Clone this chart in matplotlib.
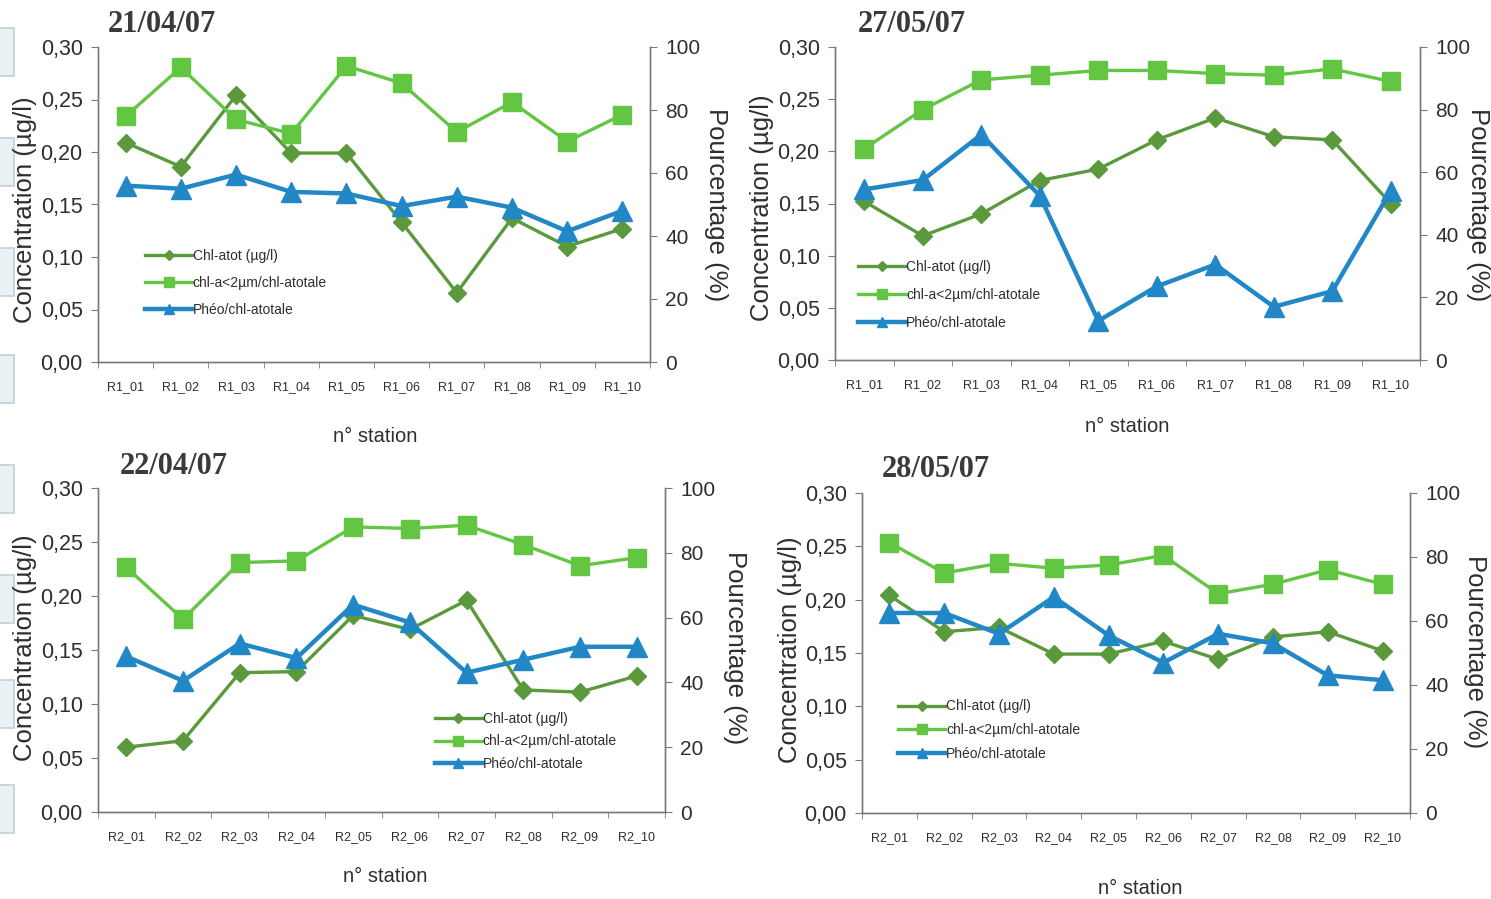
import numpy as np
import matplotlib
matplotlib.use("Agg")
import matplotlib.pyplot as plt
from matplotlib.patches import Rectangle
from matplotlib.ticker import FuncFormatter

plt.rcParams['font.family'] = ['Liberation Sans', 'DejaVu Sans']

# stations
st_r1 = ["R1_01", "R1_02", "R1_03", "R1_04", "R1_05",
         "R1_06", "R1_07", "R1_08", "R1_09", "R1_10"]
st_r2 = ["R2_01", "R2_02", "R2_03", "R2_04", "R2_05",
         "R2_06", "R2_07", "R2_08", "R2_09", "R2_10"]

# 21/04/07
chl_210407 = [0.209, 0.186, 0.254, 0.199, 0.199, 0.133, 0.066, 0.137, 0.110, 0.127]
pico_210407 = [78, 93.5, 77, 72.5, 94, 88.5, 73, 82.5, 70, 78.5]
pheo_210407 = [56, 55, 59.5, 54, 53.5, 49.5, 52.5, 49, 41.5, 48]

# 27/05/07
chl_270507 = [0.152, 0.119, 0.140, 0.172, 0.183, 0.211, 0.232, 0.214, 0.211, 0.150]
pico_270507 = [67.5, 80, 89.5, 91, 92.5, 92.5, 91.5, 91, 93, 89]
pheo_270507 = [54.5, 57.5, 72, 52.5, 12.5, 23.5, 30.5, 17, 22, 54]

# 22/04/07
chl_220407 = [0.060, 0.066, 0.129, 0.130, 0.182, 0.169, 0.196, 0.113, 0.111, 0.126]
pico_220407 = [75.5, 59.5, 77, 77.5, 88, 87.5, 88.5, 82.5, 76, 78.5]
pheo_220407 = [48, 40.5, 52, 47.5, 64, 58.5, 43, 47, 51, 51]

# 28/05/07
chl_280507 = [0.204, 0.170, 0.174, 0.149, 0.149, 0.161, 0.144, 0.165, 0.170, 0.152]
pico_280507 = [84.5, 75, 78, 76.5, 77.5, 80.5, 68.5, 71.5, 76, 71.5]
pheo_280507 = [62.5, 62.5, 56, 67.5, 55.5, 47, 56, 53, 43, 41.5]

dates = ["21/04/07", "27/05/07", "22/04/07", "28/05/07"]

c_chl = "#5a9a3c"
c_pico = "#62c642"
c_pheo = "#2187c6"
c_axis = "#7a7a7a"
c_text = "#2e2e2e"

W, H = 1491, 899
fig = plt.figure(figsize=(W / 100, H / 100), dpi=100)


def px(x, y):
    return x / W, 1 - y / H


def rect(l, t, r, b):
    return [l / W, 1 - b / H, (r - l) / W, (b - t) / H]


def panel(box, stations, chl, pico, pheo, leg_pos, leg_sp):
    ax = fig.add_axes(rect(*box))
    ax2 = ax.twinx()
    x = np.arange(len(stations))

    l1, = ax.plot(x, chl, color=c_chl, lw=2.4, marker="D", ms=9,
                  mec=c_chl, mfc=c_chl, label="Chl-atot (µg/l)", zorder=3)
    l2, = ax2.plot(x, pico, color=c_pico, lw=2.4, marker="s", ms=13,
                   mec=c_pico, mfc=c_pico, label="chl-a<2µm/chl-atotale")
    l3, = ax2.plot(x, pheo, color=c_pheo, lw=3.2, marker="^", ms=14,
                   mec=c_pheo, mfc=c_pheo, label="Phéo/chl-atotale")

    ax.set_xlim(-0.5, len(stations) - 0.5)
    ax.set_ylim(0, 0.30)
    ax2.set_ylim(0, 100)
    ax.set_yticks(np.arange(0, 0.301, 0.05))
    ax.yaxis.set_major_formatter(FuncFormatter(lambda v, p: f"{v:.2f}".replace(".", ",")))
    ax2.set_yticks(range(0, 101, 20))

    ax.set_xticks(x)
    ax.set_xticklabels(stations, fontsize=9, color=c_text)
    ax.set_xticks(np.arange(-0.5, len(stations)), minor=True)
    ax.tick_params(axis="x", which="major", length=0, pad=14)
    ax.tick_params(axis="x", which="minor", length=4, color=c_axis)
    ax.tick_params(axis="y", length=5, color=c_axis, labelsize=15.5, labelcolor=c_text, pad=6)
    ax2.tick_params(axis="y", length=5, color=c_axis, labelsize=15, labelcolor=c_text, pad=6)

    for a in (ax, ax2):
        a.spines["top"].set_visible(False)
        for s in ("left", "right", "bottom"):
            a.spines[s].set_color(c_axis)
            a.spines[s].set_linewidth(1.0)
        a.set_facecolor("none")

    ax2.legend(handles=[l1, l2, l3], loc="upper left", bbox_to_anchor=leg_pos,
               frameon=False, fontsize=10, handlelength=3.4, handletextpad=0.05,
               labelspacing=leg_sp, borderaxespad=0, borderpad=0,
               markerscale=0.55, labelcolor=c_text)
    return ax, ax2


panel((98, 47, 650, 362), st_r1, chl_210407, pico_210407, pheo_210407, (0.085, 0.36), 0.95)
panel((835, 47, 1420, 360), st_r1, chl_270507, pico_270507, pheo_270507, (0.04, 0.32), 1.0)
panel((98, 488, 665, 812), st_r2, chl_220407, pico_220407, pheo_220407, (0.594, 0.31), 0.64)
panel((862, 493, 1410, 813), st_r2, chl_280507, pico_280507, pheo_280507, (0.066, 0.355), 0.70)

# dates
title_xy = [(108, 25), (858, 25), (120, 467), (882, 470)]
for d, (tx, ty) in zip(dates, title_xy):
    fig.text(*px(tx, ty), d, family="Liberation Serif", fontweight="bold",
             fontsize=22, color="#3a3a3a", va="center", ha="left")

# axis titles
ylab_x = [(25, 210), (762, 208), (25, 648), (790, 650)]
for lx, ly in ylab_x:
    fig.text(*px(lx, ly), "Concentration (µg/l)", rotation=90, fontsize=18.5,
             color=c_text, ha="center", va="center")
rlab_x = [(716, 205), (1478, 205), (735, 648), (1475, 652)]
for lx, ly in rlab_x:
    fig.text(*px(lx, ly), "Pourcentage (%)", rotation=270, fontsize=18.5,
             color=c_text, ha="center", va="center")
xlab_x = [(375, 437), (1127, 426), (385, 877), (1140, 888)]
for lx, ly in xlab_x:
    fig.text(*px(lx, ly), "n° station", fontsize=14.5, color=c_text,
             ha="center", va="center")

# bits of the neighbouring page on the left edge
for top in [28, 138, 248, 355, 465, 575, 680, 785]:
    fig.patches.append(Rectangle(px(-2, top + 48), 16 / W, 48 / H,
                                 transform=fig.transFigure, fc="#eaf1f4",
                                 ec="#c2d0d7", lw=1.2))

fig.savefig("out.png", dpi=100)
